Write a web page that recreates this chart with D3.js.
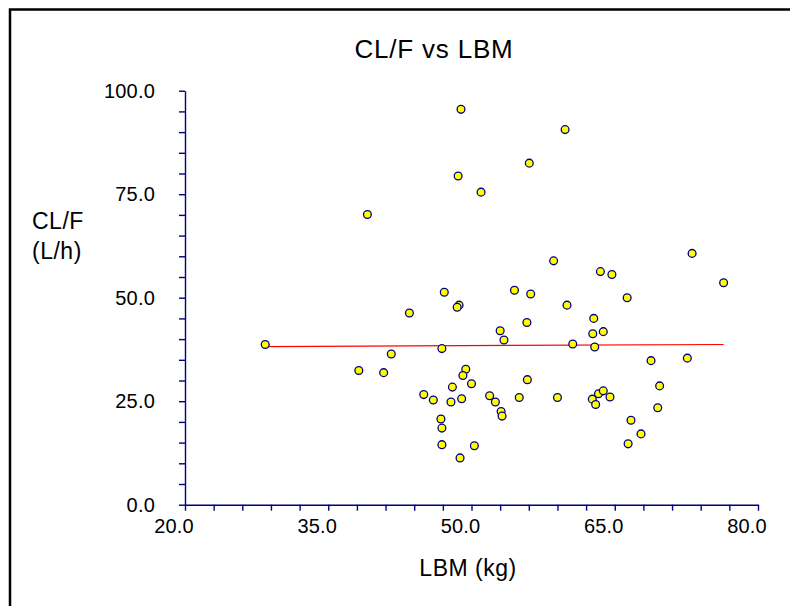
<!DOCTYPE html>
<html>
<head>
<meta charset="utf-8">
<script src="https://cdn.jsdelivr.net/npm/d3@7"></script>
<style>
  body { margin: 0; background: #fff; }
  text { font-family: "Liberation Sans", Arial, sans-serif; fill: #000; }
</style>
</head>
<body>
<div id="chart"></div>
<script>
// LBM (kg) and CL/F (L/h) per subject
const lbm = [48.9, 48.6, 39.1, 51.0, 47.15, 48.7, 48.5, 43.5, 59.8, 56.05,
    58.6, 63.5, 64.7, 73.1, 76.4, 54.5, 56.2, 60.0, 66.3, 62.8,
    55.8, 53.0, 53.4, 62.7, 63.8, 60.6, 62.9, 28.4, 46.9, 41.6,
    38.2, 40.8, 49.4, 49.1, 50.0, 48.0, 45.0, 46.0, 47.85, 48.97,
    46.8, 46.9, 46.9, 50.3, 48.8, 68.8, 72.6, 55.85, 69.7, 51.9,
    52.5, 55.0, 59.0, 62.65, 63.3, 63.8, 64.5, 63.0, 69.5, 53.1,
    53.2, 66.7, 67.75, 66.4];
const clf = [95.5, 79.4, 70.1, 75.5, 51.3, 48.2, 47.7, 46.3, 90.6, 82.5,
    58.9, 56.3, 55.6, 60.7, 53.6, 51.8, 50.9, 48.2, 50.0, 45.0,
    44.0, 42.0, 39.8, 41.3, 41.8, 38.8, 38.1, 38.7, 37.7, 36.4,
    32.4, 31.9, 32.7, 31.2, 29.2, 28.4, 26.6, 25.3, 24.8, 25.6,
    20.7, 18.5, 14.5, 14.25, 11.3, 34.8, 35.4, 30.2, 28.7, 26.3,
    24.8, 25.9, 25.9, 25.5, 26.8, 27.5, 26.0, 24.2, 23.4, 22.5,
    21.4, 20.4, 17.1, 14.7];

// fitted line end points
const fitX = [28.4, 76.4];
const fitY = [38.2, 38.7];

const xTickLabels = [20, 35, 50, 65, 80];
const yTickLabels = [0, 25, 50, 75, 100];

const W = 790, H = 606;
const axisColor = "#00007f";

const svg = d3.select("#chart").append("svg")
    .attr("width", W)
    .attr("height", H);

// outer frame
svg.append("rect")
    .attr("x", 10).attr("y", 9.5)
    .attr("width", W + 20).attr("height", H + 20)
    .attr("fill", "#fff")
    .attr("stroke", "#000")
    .attr("stroke-width", 2.5);

const x = d3.scaleLinear().domain([20, 80]).range([185, 758]);
const y = d3.scaleLinear().domain([0, 100]).range([504.7, 90.7]);

// title
svg.append("text")
    .attr("x", 434).attr("y", 57.5)
    .attr("text-anchor", "middle")
    .style("font-size", "26px")
    .style("letter-spacing", "0.8px")
    .text("CL/F vs LBM");

// axes
const xAxis = svg.append("g")
    .attr("transform", `translate(0,${y(0)})`)
    .call(d3.axisBottom(x).tickValues(d3.range(20, 80.1, 3)).tickSize(6).tickSizeOuter(0).tickFormat(""));
const yAxis = svg.append("g")
    .attr("transform", `translate(${x(20)},0)`)
    .call(d3.axisLeft(y).tickValues(d3.range(0, 100.1, 5)).tickSize(6).tickSizeOuter(0).tickFormat(""));

[xAxis, yAxis].forEach(g => {
    g.selectAll("path, line").attr("stroke", axisColor).attr("stroke-width", 1.4);
});

// tick labels
svg.selectAll(".xlab")
    .data(xTickLabels)
    .enter().append("text")
    .attr("class", "xlab")
    .attr("x", d => x(d) - 11)
    .attr("y", 533)
    .attr("text-anchor", "middle")
    .style("font-size", "20px")
    .style("letter-spacing", "0.2px")
    .text(d => d.toFixed(1));

svg.selectAll(".ylab")
    .data(yTickLabels)
    .enter().append("text")
    .attr("class", "ylab")
    .attr("x", 155)
    .attr("y", d => y(d))
    .attr("dy", "0.35em")
    .attr("text-anchor", "end")
    .style("font-size", "20px")
    .style("letter-spacing", "0.2px")
    .text(d => d.toFixed(1));

// axis titles
svg.append("text")
    .attr("x", 468).attr("y", 576)
    .attr("text-anchor", "middle")
    .style("font-size", "23px")
    .style("letter-spacing", "0.5px")
    .text("LBM (kg)");

const yTitle = svg.append("text")
    .style("font-size", "23px")
    .style("letter-spacing", "0.5px");
yTitle.append("tspan").attr("x", 32).attr("y", 229).text("CL/F");
yTitle.append("tspan").attr("x", 32).attr("y", 259).text("(L/h)");

// fitted line
svg.append("line")
    .attr("x1", x(fitX[0])).attr("y1", y(fitY[0]))
    .attr("x2", x(fitX[1])).attr("y2", y(fitY[1]))
    .attr("stroke", "#ff0000")
    .attr("stroke-width", 1.2);

// points
svg.selectAll("circle.pt")
    .data(lbm.map((v, i) => ({ x: v, y: clf[i] })))
    .enter().append("circle")
    .attr("class", "pt")
    .attr("cx", d => x(d.x))
    .attr("cy", d => y(d.y))
    .attr("r", 3.9)
    .attr("fill", "#ffff00")
    .attr("stroke", "#00007f")
    .attr("stroke-width", 1.3);
</script>
</body>
</html>
